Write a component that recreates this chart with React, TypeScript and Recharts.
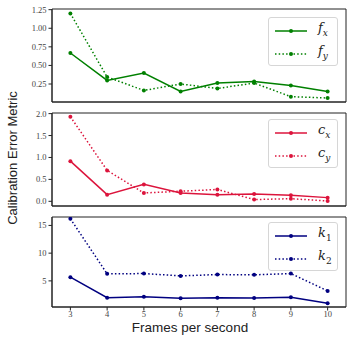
import React from 'react';
import { LineChart, Line, XAxis, YAxis, ReferenceArea } from 'recharts';

const fps = [3, 4, 5, 6, 7, 8, 9, 10];
const fx = [0.667, 0.298, 0.398, 0.15, 0.263, 0.285, 0.231, 0.15];
const fy = [1.199, 0.344, 0.164, 0.25, 0.19, 0.263, 0.08, 0.062];
const cx = [0.916, 0.152, 0.386, 0.19, 0.15, 0.166, 0.136, 0.084];
const cy = [1.93, 0.705, 0.19, 0.23, 0.27, 0.04, 0.06, 0.007];
const k1 = [5.67, 1.98, 2.16, 1.86, 1.98, 1.92, 2.05, 0.96];
const k2 = [16.2, 6.27, 6.32, 5.9, 6.14, 6.09, 6.32, 3.19];

const ticksF = [0.25, 0.5, 0.75, 1.0, 1.25];
const ticksC = [0, 0.5, 1.0, 1.5, 2.0];
const ticksK = [5, 10, 15];

const data = fps.map((f, i) => ({ fps: f, fx: fx[i], fy: fy[i], cx: cx[i], cy: cy[i], k1: k1[i], k2: k2[i] }));

const W = 353;
const X_DOMAIN: [number, number] = [2.5, 10.5];
const SPINE = '#222';
const TICK = { fill: '#444', fontSize: 8.5, fontFamily: 'Liberation Serif' };

type PanelProps = {
  top: number;
  height: number;
  mTop: number;
  xHeight: number;
  showX: boolean;
  domain: [number, number];
  ticks: number[];
  fmt: (v: number) => string;
  keys: [string, string];
  sym: string;
  subs: [string, string];
  color: string;
  legendTop: number;
};

function Legend2({ sym, subs, color, top }: { sym: string; subs: [string, string]; color: string; top: number }) {
  return (
    <div
      style={{
        position: 'absolute', left: 268, top, width: 70, height: 49,
        border: '1px solid #d6d6d6', borderRadius: 3, background: 'rgba(255,255,255,0.8)', boxSizing: 'border-box',
      }}
    >
      {subs.map((s, i) => (
        <div key={s} style={{ position: 'absolute', left: 5, top: 5 + i * 23, height: 16, width: 64 }}>
          <svg width={34} height={16} style={{ position: 'absolute', left: 0, top: 0 }}>
            <line x1={1} x2={33} y1={8} y2={8} stroke={color} strokeWidth={1.5} strokeDasharray={i === 1 ? '1.5 2.2' : undefined} />
            <circle cx={17} cy={8} r={2} fill={color} />
          </svg>
          <span
            style={{
              position: 'absolute', left: 44, top: -3, fontFamily: 'DejaVu Serif', fontStyle: 'italic',
              fontSize: 13, color: '#222', whiteSpace: 'nowrap',
            }}
          >
            {sym}
            <sub style={{ fontSize: 9, fontStyle: /\d/.test(s) ? 'normal' : 'italic' }}>{s}</sub>
          </span>
        </div>
      ))}
    </div>
  );
}

function Panel(p: PanelProps) {
  return (
    <div style={{ position: 'absolute', left: 0, top: p.top }}>
      <LineChart width={W} height={p.height} data={data} margin={{ top: p.mTop, right: 7, left: 0, bottom: 0 }}>
        <XAxis
          dataKey="fps" type="number" domain={X_DOMAIN} ticks={fps} height={p.xHeight}
          tickSize={3.5} tickMargin={0} tick={p.showX ? TICK : false} stroke={SPINE} interval={0} allowDataOverflow
        />
        <YAxis
          type="number" domain={p.domain} ticks={p.ticks} allowDataOverflow width={52}
          tickSize={3.5} tick={TICK} tickFormatter={p.fmt} stroke={SPINE} interval={0}
        />
        {/* full box frame */}
        <ReferenceArea x1={X_DOMAIN[0]} x2={X_DOMAIN[1]} y1={p.domain[0]} y2={p.domain[1]}
          fill="none" stroke={SPINE} strokeWidth={1} ifOverflow="visible" />
        <Line dataKey={p.keys[0]} stroke={p.color} strokeWidth={1.5} dot={{ r: 2, fill: p.color, stroke: 'none' }} isAnimationActive={false} />
        <Line dataKey={p.keys[1]} stroke={p.color} strokeWidth={1.5} strokeDasharray="1.5 2.2" dot={{ r: 2, fill: p.color, stroke: 'none' }} isAnimationActive={false} />
      </LineChart>
      <Legend2 sym={p.sym} subs={p.subs} color={p.color} top={p.legendTop} />
    </div>
  );
}

export default function App() {
  return (
    <div style={{ position: 'absolute', left: 0, top: 0, width: W, height: 342, background: '#fff', overflow: 'hidden' }}>
      <Panel top={0} height={112} mTop={9} xHeight={10} showX={false} domain={[0.008, 1.259]} ticks={ticksF}
        fmt={(v) => v.toFixed(2)} keys={['fx', 'fy']} sym="f" subs={['x', 'y']} color="#008000" legendTop={17} />
      <Panel top={103} height={113} mTop={10} xHeight={10} showX={false} domain={[-0.107, 2.014]} ticks={ticksC}
        fmt={(v) => v.toFixed(1)} keys={['cx', 'cy']} sym="c" subs={['x', 'y']} color="#dc143c" legendTop={16} />
      <Panel top={207} height={135} mTop={10} xHeight={35} showX={true} domain={[0.29, 16.52]} ticks={ticksK}
        fmt={(v) => String(v)} keys={['k1', 'k2']} sym="k" subs={['1', '2']} color="#000080" legendTop={15} />
      <div style={{ position: 'absolute', left: 0, width: W, top: 320, textAlign: 'center', paddingLeft: 27, boxSizing: 'border-box',
        fontFamily: 'Liberation Sans', fontSize: 13.5, lineHeight: '15px', color: '#222' }}>
        Frames per second
      </div>
      <div style={{ position: 'absolute', left: 12, top: 158, width: 0, height: 0 }}>
        <div style={{ position: 'absolute', transform: 'translate(-50%, -50%) rotate(-90deg)', whiteSpace: 'nowrap',
          fontFamily: 'Liberation Sans', fontSize: 13, color: '#222' }}>
          Calibration Error Metric
        </div>
      </div>
    </div>
  );
}
